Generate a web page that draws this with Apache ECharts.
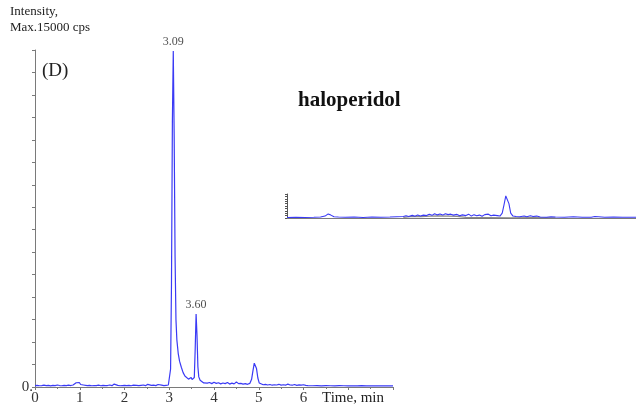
<!DOCTYPE html>
<html>
<head>
<meta charset="utf-8">
<script src="https://cdn.jsdelivr.net/npm/echarts@6/dist/echarts.min.js"></script>
<style>
  html, body { margin: 0; padding: 0; background: #fff; }
  #chart { width: 636px; height: 409px; }
</style>
</head>
<body>
<div id="chart"></div>
<script>
// Sample chromatogram: time (min) vs intensity (cps)
const mainTrace = [
  [0.00,60],[0.05,70],[0.10,55],[0.15,65],[0.20,80],[0.25,60],[0.30,70],[0.35,50],[0.40,75],[0.45,60],
  [0.50,90],[0.55,65],[0.60,55],[0.65,70],[0.70,60],[0.75,80],[0.80,65],[0.85,90],[0.88,130],[0.92,190],
  [0.96,230],[0.99,200],[1.02,110],[1.05,150],[1.08,90],[1.12,70],[1.17,60],[1.22,75],[1.27,55],[1.32,65],
  [1.37,60],[1.42,80],[1.47,55],[1.52,70],[1.57,60],[1.62,65],[1.67,90],[1.72,60],[1.77,130],[1.80,60],
  [1.85,70],[1.90,55],[1.95,65],[2.00,75],[2.05,60],[2.10,70],[2.15,55],[2.20,80],[2.24,160],[2.27,70],
  [2.32,60],[2.37,75],[2.42,90],[2.47,60],[2.52,120],[2.55,65],[2.60,70],[2.65,80],[2.70,60],[2.75,110],
  [2.78,70],[2.83,85],[2.88,60],[2.93,75],[2.98,90],[3.01,150],[3.03,800],[3.05,4600],[3.07,11800],[3.09,14950],
  [3.11,11200],[3.13,5800],[3.15,3000],[3.17,2100],[3.20,1500],[3.23,1150],[3.27,880],[3.31,640],[3.35,490],[3.39,410],
  [3.43,350],[3.46,300],[3.49,420],[3.51,330],[3.54,280],[3.56,420],[3.58,1700],[3.60,3250],[3.62,2300],[3.64,900],
  [3.66,450],[3.69,300],[3.73,250],[3.77,180],[3.81,230],[3.85,170],[3.90,200],[3.95,150],[4.00,210],[4.05,160],
  [4.10,190],[4.15,140],[4.20,180],[4.25,150],[4.30,200],[4.35,130],[4.40,170],[4.45,140],[4.50,220],[4.55,150],
  [4.60,160],[4.65,130],[4.70,150],[4.75,120],[4.80,160],[4.84,340],[4.87,720],[4.90,1060],[4.92,1130],[4.95,820],
  [4.98,400],[5.01,180],[5.05,130],[5.10,100],[5.15,120],[5.20,90],[5.25,110],[5.30,80],[5.35,100],[5.40,90],
  [5.45,120],[5.50,85],[5.55,100],[5.60,80],[5.65,130],[5.70,90],[5.75,80],[5.80,110],[5.85,75],[5.90,95],
  [5.95,80],[6.00,100],[6.05,70],[6.10,60],[6.20,55],[6.30,65],[6.40,50],[6.50,60],[6.60,55],[6.70,50],
  [6.80,60],[6.90,55],[7.00,50],[7.10,55],[7.20,50],[7.30,60],[7.40,50],[7.50,55],[7.60,50],[7.70,55],
  [7.80,50],[7.90,55],[8.00,50]
];
// Retention times that get a label above their peak
const peakTimes = [3.09, 3.60];

// Blank trace shown in the small panel (relative intensity, %)
const blankTrace = [
  [0.0,2],[0.2,3],[0.4,2],[0.6,3],[0.75,4],[0.85,8],[0.92,17],[0.98,12],[1.05,5],[1.15,4],
  [1.3,3],[1.5,4],[1.7,2],[1.9,4],[2.1,3],[2.3,4],[2.45,5],[2.6,6],[2.66,9],[2.72,6],
  [2.8,11],[2.86,7],[2.92,13],[2.98,8],[3.05,12],[3.12,10],[3.18,16],[3.24,11],[3.3,18],[3.36,13],
  [3.42,17],[3.48,12],[3.54,18],[3.6,14],[3.66,16],[3.72,12],[3.8,15],[3.86,9],[3.92,13],[4.0,10],
  [4.06,16],[4.12,8],[4.18,14],[4.24,9],[4.3,12],[4.36,7],[4.42,14],[4.5,16],[4.56,9],[4.62,12],
  [4.7,10],[4.76,8],[4.81,20],[4.85,55],[4.89,92],[4.92,95],[4.96,60],[5.0,20],[5.05,8],[5.12,6],
  [5.2,5],[5.3,8],[5.36,5],[5.44,9],[5.5,6],[5.58,8],[5.66,4],[5.8,3],[5.9,5],[6.0,4],
  [6.2,3],[6.4,5],[6.6,3],[6.8,3],[6.88,6],[6.92,14],[6.96,5],[7.1,3],[7.3,4],[7.5,3],
  [7.7,3],[7.8,3]
];
const blankBaseline = [
  [2.6,3],[2.8,7],[3.0,6],[3.2,8],[3.4,9],[3.6,8],[3.8,7],[4.0,3],[4.2,2],[4.5,2],
  [5.0,1],[5.5,2],[6.0,1]
];

const serif = "'Liberation Serif', 'Times New Roman', serif";
const axisGrey = '#7a7a7a';
const traceBlue = '#3a3af5';

const peakMarks = peakTimes.map(t => mainTrace.find(p => p[0] === t));

const chart = echarts.init(document.getElementById('chart'), null, { renderer: 'canvas' });
chart.setOption({
  animation: false,
  backgroundColor: '#fff',
  grid: [
    { left: 35, top: 50, width: 358, height: 337 },
    { left: 287, top: 194, right: 0, height: 24 }
  ],
  xAxis: [
    {
      gridIndex: 0, type: 'value', min: 0, max: 8, interval: 1,
      axisLine: { lineStyle: { color: axisGrey, width: 1 } },
      axisTick: { show: true, length: 3, lineStyle: { color: axisGrey } },
      minorTick: { show: true, splitNumber: 2, length: 2, lineStyle: { color: axisGrey } },
      splitLine: { show: false },
      axisLabel: {
        fontFamily: serif, fontSize: 15, color: '#333', margin: 4,
        formatter: v => (v <= 6 ? String(v) : '')
      }
    },
    {
      gridIndex: 1, type: 'value', min: 0, max: 7.8,
      axisLine: { show: true, lineStyle: { color: axisGrey } },
      axisTick: { show: false }, axisLabel: { show: false }, splitLine: { show: false }
    }
  ],
  yAxis: [
    {
      gridIndex: 0, type: 'value', min: 0, max: 15000, interval: 1000,
      axisLine: { show: true, lineStyle: { color: axisGrey, width: 1 } },
      axisTick: { show: true, length: 3, lineStyle: { color: axisGrey } },
      splitLine: { show: false },
      axisLabel: {
        fontFamily: serif, fontSize: 15, color: '#333', margin: 2,
        formatter: v => (v === 0 ? '0.' : '')
      }
    },
    {
      gridIndex: 1, type: 'value', min: 0, max: 100, interval: 10,
      axisLine: { show: true, lineStyle: { color: '#555' } },
      axisTick: { show: true, length: 2, lineStyle: { color: '#555' } },
      axisLabel: { show: false }, splitLine: { show: false }
    }
  ],
  series: [
    {
      type: 'line', xAxisIndex: 0, yAxisIndex: 0, data: mainTrace,
      showSymbol: false, symbol: 'none',
      lineStyle: { color: traceBlue, width: 1.2 }
    },
    {
      // retention-time labels above the two peaks
      type: 'scatter', xAxisIndex: 0, yAxisIndex: 0, data: peakMarks,
      symbol: 'circle', symbolSize: 1,
      itemStyle: { color: 'rgba(0,0,0,0)' },
      label: {
        show: true, position: 'top', distance: 3,
        formatter: p => p.value[0].toFixed(2),
        fontFamily: serif, fontSize: 12, color: '#222'
      },
      z: 5
    },
    {
      type: 'line', xAxisIndex: 1, yAxisIndex: 1, data: blankBaseline,
      showSymbol: false, symbol: 'none',
      lineStyle: { color: '#8a8a8a', width: 1.2 }
    },
    {
      type: 'line', xAxisIndex: 1, yAxisIndex: 1, data: blankTrace,
      showSymbol: false, symbol: 'none',
      lineStyle: { color: traceBlue, width: 1.1 }
    }
  ],
  graphic: [
    { type: 'text', left: 10, top: 5, style: { text: 'Intensity,', font: '13px ' + serif, fill: '#222' } },
    { type: 'text', left: 10, top: 21, style: { text: 'Max.15000 cps', font: '13px ' + serif, fill: '#222' } },
    { type: 'text', left: 42, top: 62, style: { text: '(D)', font: '19px ' + serif, fill: '#222' } },
    { type: 'text', left: 298, top: 90, style: { text: 'haloperidol', font: 'bold 21px ' + serif, fill: '#111' } },
    { type: 'text', left: 322, top: 391, style: { text: 'Time, min', font: '15px ' + serif, fill: '#222' } }
  ]
});
</script>
</body>
</html>
